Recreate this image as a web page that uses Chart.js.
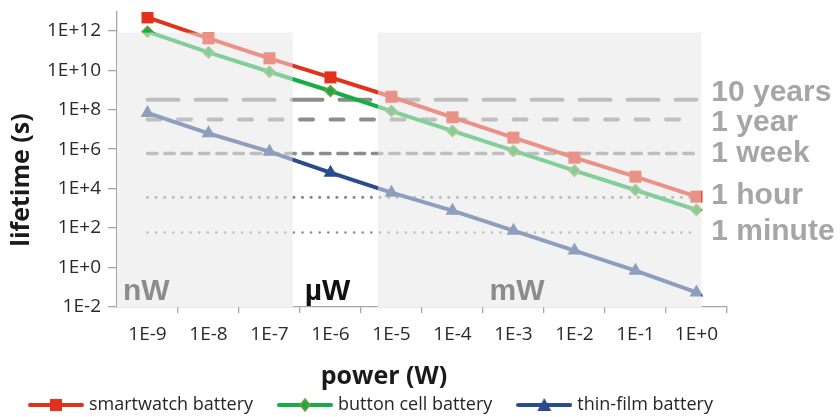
<!DOCTYPE html>
<html>
<head>
<meta charset="utf-8">
<script src="https://cdn.jsdelivr.net/npm/chart.js@4.4.0/dist/chart.umd.min.js"></script>
<style>
  html, body { margin: 0; padding: 0; background: #fff; }
</style>
</head>
<body>
<canvas id="lifetime_chart" width="840" height="417"></canvas>
<script>
// potência (W), uma categoria por década
const power = [1e-9, 1e-8, 1e-7, 1e-6, 1e-5, 1e-4, 1e-3, 1e-2, 1e-1, 1e0];
const powerLabels = ["1E-9", "1E-8", "1E-7", "1E-6", "1E-5", "1E-4", "1E-3", "1E-2", "1E-1", "1E+0"];

// tempo de vida (s)
const smartwatchLifetime = [4.7e12, 4.1e11, 4.0e10, 4.3e9, 4.5e8, 4.1e7, 3.8e6, 3.7e5, 4.0e4, 3.9e3];
const buttonCellLifetime = [8.9e11, 8.0e10, 8.3e9, 8.8e8, 8.5e7, 8.3e6, 8.3e5, 8.1e4, 8.5e3, 8.3e2];
const thinFilmLifetime = [6.8e7, 6.3e6, 7.4e5, 6.4e4, 6.2e3, 7.6e2, 74, 7.2, 0.69, 0.055];

// eixo y
const lifetimeTicks = [1e-2, 1e0, 1e2, 1e4, 1e6, 1e8, 1e10, 1e12];
const lifetimeLabels = ["1E-2", "1E+0", "1E+2", "1E+4", "1E+6", "1E+8", "1E+10", "1E+12"];

// referências de tempo (s)
const refLabels = ["10 years", "1 year", "1 week", "1 hour", "1 minute"];
const refSeconds = [3.15e8, 3.15e7, 6.05e5, 3600, 60];

// faixas de potência (limites em W) e topo do sombreado (s)
const regionNames = ["nW", "µW", "mW"];
const regionEdges = [3.16e-10, 2.4e-7, 6e-6, 1.2];
const shadeTop = 8e11;

// estilos das linhas de referência
const refStyles = [
    { width: 4, dash: [31, 17], textDy: 1 },
    { width: 4, dash: [13, 17.5], textDy: 11 },
    { width: 3.5, dash: [9.5, 7.8], textDy: 9 },
    { width: 3.3, dash: [0.01, 8.6], textDy: 7 },
    { width: 2.6, dash: [0.01, 8.6], textDy: 8 },
];

const RED = "#e2321e";
const GREEN = "#14ad46";
const NAVY = "#2a4b8d";
const OLIVE = "#7f9a3b";

Chart.defaults.font.family = "'Open Sans', sans-serif";
Chart.defaults.color = "#2a2a2a";

function toPoints(values) {
    return power.map((p, i) => ({ x: p, y: values[i] }));
}

// amostra da legenda: linha com marcador no meio
function legendSample(color, shape, border) {
    const c = document.createElement("canvas");
    c.width = 56;
    c.height = 18;
    const ctx = c.getContext("2d");
    ctx.strokeStyle = color;
    ctx.lineWidth = 4;
    ctx.lineCap = "round";
    ctx.beginPath();
    ctx.moveTo(2, 9);
    ctx.lineTo(54, 9);
    ctx.stroke();
    ctx.fillStyle = color;
    ctx.beginPath();
    if (shape === "rect") {
        ctx.rect(22, 3, 12, 12);
    } else if (shape === "diamond") {
        ctx.moveTo(28, 3); ctx.lineTo(33, 9); ctx.lineTo(28, 15); ctx.lineTo(23, 9);
        ctx.closePath();
    } else {
        ctx.moveTo(28, 2); ctx.lineTo(35, 15); ctx.lineTo(21, 15);
        ctx.closePath();
    }
    ctx.fill();
    if (border) {
        ctx.strokeStyle = border;
        ctx.lineWidth = 1.5;
        ctx.stroke();
    }
    return c;
}

function shade(chart, color) {
    const { ctx, chartArea, scales: { x, y } } = chart;
    const top = y.getPixelForValue(shadeTop);
    ctx.save();
    ctx.fillStyle = color;
    [[0, 1], [2, 3]].forEach(([a, b]) => {
        const l = x.getPixelForValue(regionEdges[a]);
        const r = x.getPixelForValue(regionEdges[b]);
        ctx.fillRect(l, top, r - l, chartArea.bottom - top);
    });
    ctx.restore();
}

const regionPlugin = {
    id: "regions",
    beforeDatasetsDraw(chart) {
        shade(chart, "#f2f2f2");
    },
    afterDatasetsDraw(chart) {
        // véu claro por cima das linhas nas faixas nW e mW
        shade(chart, "rgba(242,242,242,0.5)");

        const { ctx, chartArea, scales: { x } } = chart;
        const base = chartArea.bottom - 7;
        ctx.save();
        ctx.font = "bold 30px 'Liberation Sans', Arial, sans-serif";
        ctx.textBaseline = "alphabetic";
        ctx.textAlign = "left";
        ctx.fillStyle = "#8c8c8c";
        ctx.fillText(regionNames[0], chartArea.left + 6, base);
        ctx.fillText(regionNames[2], x.getPixelForValue(1e-3) - 24, base);
        ctx.fillStyle = "#111111";
        ctx.fillText(regionNames[1], x.getPixelForValue(regionEdges[1]) + 12, base);
        ctx.restore();
    },
    afterDraw(chart) {
        const { ctx, scales: { x, y } } = chart;
        ctx.save();
        // rótulos das referências à direita
        ctx.font = "bold 30px 'Liberation Sans', Arial, sans-serif";
        ctx.fillStyle = "#a6a6a6";
        ctx.textAlign = "left";
        ctx.textBaseline = "alphabetic";
        const labelX = x.getPixelForValue(regionEdges[3]) + 10;
        refLabels.forEach((label, i) => {
            ctx.fillText(label, labelX, y.getPixelForValue(refSeconds[i]) + refStyles[i].textDy);
        });

        // títulos dos eixos
        ctx.font = "bold 25px 'Open Sans', sans-serif";
        ctx.fillStyle = "#1a1a1a";
        ctx.textAlign = "center";
        ctx.textBaseline = "middle";
        ctx.fillText("power (W)", 384, 377);
        ctx.translate(22, 180);
        ctx.rotate(-Math.PI / 2);
        ctx.fillText("lifetime (s)", 0, 0);
        ctx.restore();
    },
};

const seriesDatasets = [
    {
        label: "smartwatch battery",
        data: toPoints(smartwatchLifetime),
        borderColor: RED,
        backgroundColor: RED,
        pointStyle: "rect",
        pointRadius: 8.5,
        pointBorderWidth: 0,
        sample: legendSample(RED, "rect"),
    },
    {
        label: "button cell battery",
        data: toPoints(buttonCellLifetime),
        borderColor: GREEN,
        backgroundColor: GREEN,
        pointStyle: "rectRot",
        pointRadius: 5.5,
        pointBorderColor: OLIVE,
        pointBorderWidth: 1.5,
        sample: legendSample(GREEN, "diamond", OLIVE),
    },
    {
        label: "thin-film battery",
        data: toPoints(thinFilmLifetime),
        borderColor: NAVY,
        backgroundColor: NAVY,
        pointStyle: "triangle",
        pointRadius: 8,
        pointBorderWidth: 0,
        sample: legendSample(NAVY, "triangle"),
    },
].map((d) => ({ ...d, borderWidth: 4, tension: 0, order: 0 }));

const refDatasets = refSeconds.map((s, i) => ({
    label: refLabels[i],
    data: [{ x: power[0], y: s }, { x: power[power.length - 1], y: s }],
    borderColor: "#8c8c8c",
    borderWidth: refStyles[i].width,
    borderDash: refStyles[i].dash,
    borderCapStyle: "round",
    pointRadius: 0,
    order: 5,
}));

new Chart(document.getElementById("lifetime_chart"), {
    type: "line",
    data: { datasets: [...seriesDatasets, ...refDatasets] },
    options: {
        responsive: false,
        animation: false,
        events: [],
        layout: { padding: { top: 12, right: 0, left: 4, bottom: 0 } },
        scales: {
            x: {
                type: "logarithmic",
                min: 3.1623e-10,
                max: 3.17,
                afterBuildTicks: (scale) => {
                    scale.ticks = power.map((v) => ({ value: v }));
                },
                afterFit: (scale) => {
                    scale.height = 61;
                    scale.paddingLeft = 0;
                    scale.paddingRight = 0;
                },
                ticks: {
                    autoSkip: false,
                    maxRotation: 0,
                    padding: 10,
                    font: { size: 19 },
                    color: "#2a2a2a",
                    callback: (value, index) => powerLabels[index],
                },
                grid: {
                    offset: true,
                    drawOnChartArea: false,
                    tickLength: 6,
                    color: "#a6a6a6",
                    lineWidth: 1.3,
                },
                border: { color: "#a6a6a6", width: 1.3 },
            },
            y: {
                type: "logarithmic",
                min: 1e-2,
                max: 8.85e12,
                afterBuildTicks: (scale) => {
                    scale.ticks = lifetimeTicks.map((v) => ({ value: v }));
                },
                afterFit: (scale) => {
                    scale.width = 113;
                    scale.paddingTop = 0;
                    scale.paddingBottom = 0;
                },
                ticks: {
                    padding: 7,
                    font: { size: 19 },
                    color: "#2a2a2a",
                    callback: (value, index) => lifetimeLabels[index],
                },
                grid: {
                    drawOnChartArea: false,
                    tickLength: 9,
                    color: "#a6a6a6",
                    lineWidth: 1.3,
                },
                border: { color: "#a6a6a6", width: 1.3 },
            },
            // espaço vazio à direita para os rótulos das referências
            gutter: {
                type: "linear",
                position: "right",
                afterFit: (scale) => {
                    scale.width = 113;
                    scale.paddingTop = 0;
                    scale.paddingBottom = 0;
                },
                ticks: { display: false },
                grid: { display: false },
                border: { display: false },
            },
        },
        plugins: {
            tooltip: { enabled: false },
            legend: {
                position: "bottom",
                align: "start",
                maxHeight: 49,
                labels: {
                    usePointStyle: true,
                    pointStyleWidth: 48,
                    padding: 28,
                    font: { size: 18 },
                    color: "#262626",
                    generateLabels: (chart) =>
                        seriesDatasets.map((d, i) => ({
                            text: d.label,
                            pointStyle: d.sample,
                            fillStyle: d.borderColor,
                            strokeStyle: d.borderColor,
                            lineWidth: 0,
                            fontColor: "#262626",
                            hidden: false,
                            datasetIndex: i,
                        })),
                },
            },
        },
    },
    plugins: [regionPlugin],
});
</script>
</body>
</html>
